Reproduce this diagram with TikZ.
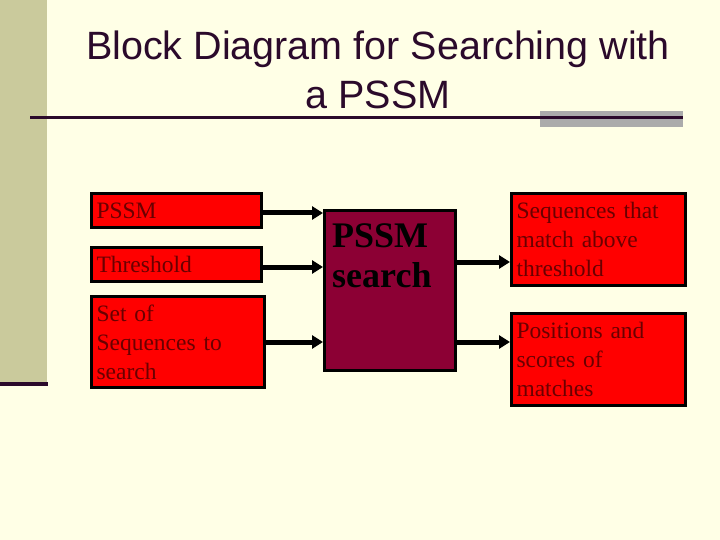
\documentclass[tikz,border=0pt]{standalone}
\usepackage{fontspec}
\setmainfont{Liberation Serif}
\newfontfamily\titlefont{Liberation Sans}
\usetikzlibrary{arrows.meta}
\definecolor{bgc}{HTML}{FFFFE6}
\definecolor{barc}{HTML}{CACA9C}
\definecolor{darkc}{HTML}{2B0A2B}
\definecolor{grayc}{HTML}{ABABAB}
\definecolor{redtext}{HTML}{6A0000}
\definecolor{searchc}{HTML}{8C0034}
\tikzset{
  inbox/.style={draw=black, line width=3pt, fill=red, text=redtext, inner xsep=5pt, inner ysep=0pt,
    align=left, font=\fontsize{23.5}{29}\selectfont},
  arr/.style={line width=5pt, -{Triangle[length=11pt,width=13pt]}},
}
\begin{document}
\begin{tikzpicture}[x=1pt,y=-1pt]
\useasboundingbox (0,0) rectangle (720,540);
\fill[bgc] (0,0) rectangle (720,540);
\fill[barc] (0,0) rectangle (47,382);
\fill[darkc] (0,382) rectangle (48,386);
\fill[grayc] (540,111) rectangle (683,127);
\fill[darkc] (30,116) rectangle (683,119);
\node[text=darkc, font=\titlefont\fontsize{39.5}{49}\selectfont, align=center, anchor=base] (title) at (378,109)
  {Block Diagram for Searching with\\a PSSM};
\node[inbox, minimum width=170pt, minimum height=34pt, text width=160pt] (pssm) at (176.5,210.5) {PSSM};
\node[inbox, minimum width=170pt, minimum height=34pt, text width=160pt] (thr) at (176.5,264.5) {Threshold};
\node[inbox, minimum width=173pt, minimum height=91pt, text width=163pt] (set) at (178,342) {Set of\\Sequences to\\search};
\node[draw=black, line width=3pt, fill=searchc, minimum width=131pt, minimum height=160pt, inner sep=0pt] (search) at (390,290.5) {};
\node[anchor=north west, align=left, inner sep=0pt, font=\bfseries\fontsize{36}{40}\selectfont, text=black] (searchlabel) at (332,223) {PSSM\\search};
\node[inbox, minimum width=174pt, minimum height=92pt, text width=164pt] (r1) at (598.5,239.5) {Sequences that\\match above\\threshold};
\node[inbox, minimum width=174pt, minimum height=92pt, text width=164pt] (r2) at (598.5,359.5) {Positions and\\scores of\\matches};
\draw[arr] ([yshift=-2.5pt]pssm.east) -- ([yshift=-2.5pt]pssm.east -| search.west);
\draw[arr] ([yshift=-2.5pt]thr.east) -- ([yshift=-2.5pt]thr.east -| search.west);
\draw[arr] (set.east) -- (set.east -| search.west);
\draw[arr] ([yshift=-53pt]search.north east) -- ([yshift=-53pt]search.north east -| r1.west);
\draw[arr] ([yshift=-133pt]search.north east) -- ([yshift=-133pt]search.north east -| r2.west);
\end{tikzpicture}
\end{document}
